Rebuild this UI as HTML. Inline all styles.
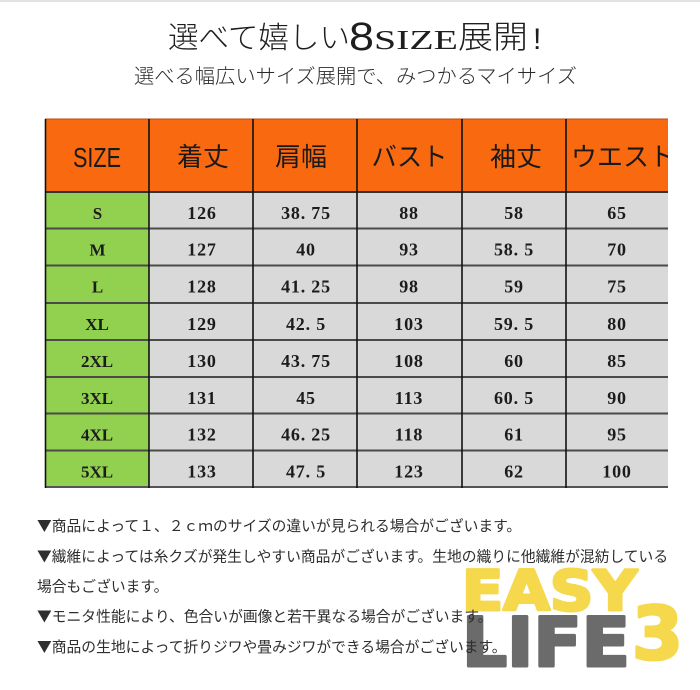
<!DOCTYPE html>
<html>
<head>
<meta charset="utf-8">
<style>
  html,body{margin:0;padding:0;background:#fff;}
  body{width:700px;height:690px;overflow:hidden;}
  svg{display:block;}
</style>
</head>
<body>
<svg width="700" height="690" viewBox="0 0 700 690" xmlns="http://www.w3.org/2000/svg">
  <defs>
    <clipPath id="tbl"><rect x="0" y="0" width="668" height="690"/></clipPath>
  </defs>
  <rect x="0" y="0" width="700" height="690" fill="#ffffff"/>
  <rect x="0" y="0" width="700" height="2" fill="#e2e2e2"/>

  <!-- Title -->
  <g fill="#1e1e1e">
    <text x="168" y="48" font-family="'Noto Sans CJK JP', sans-serif" font-weight="300" font-size="30" textLength="182" lengthAdjust="spacingAndGlyphs">選べて嬉しい</text>
    <text x="349" y="50" font-family="'Liberation Sans', sans-serif" font-size="40" textLength="25" lengthAdjust="spacingAndGlyphs">8</text>
    <text x="374" y="49" font-family="'Liberation Serif', serif" font-size="27" textLength="84" lengthAdjust="spacingAndGlyphs">SIZE</text>
    <text x="458" y="48" font-family="'Noto Sans CJK JP', sans-serif" font-weight="300" font-size="32" textLength="70" lengthAdjust="spacingAndGlyphs">展開</text>
    <text x="533" y="49" font-family="'Liberation Sans', sans-serif" font-size="30">!</text>
  </g>
  <!-- Subtitle -->
  <text x="134" y="83" fill="#2a2a2a" font-family="'Noto Sans CJK JP', sans-serif" font-weight="300" font-size="20" textLength="443" lengthAdjust="spacingAndGlyphs">選べる幅広いサイズ展開で、みつかるマイサイズ</text>

  <!-- Table backgrounds -->
  <g clip-path="url(#tbl)">
    <rect x="45" y="119" width="623" height="73" fill="#f96a10"/>
    <rect x="45" y="192" width="104" height="295" fill="#92d050"/>
    <rect x="149" y="192" width="519" height="295" fill="#d9d9d9"/>

    <!-- horizontal lines -->
    <g stroke="#4a4a4a" stroke-width="2">
      <line x1="45" y1="119" x2="668" y2="119" stroke="#b24d0c" stroke-width="1"/>
      <line x1="45" y1="192" x2="668" y2="192" stroke="#333"/>
      <line x1="45" y1="228.5" x2="668" y2="228.5"/>
      <line x1="45" y1="265.5" x2="668" y2="265.5"/>
      <line x1="45" y1="303" x2="668" y2="303"/>
      <line x1="45" y1="340" x2="668" y2="340"/>
      <line x1="45" y1="377" x2="668" y2="377"/>
      <line x1="45" y1="413.5" x2="668" y2="413.5"/>
      <line x1="45" y1="450.5" x2="668" y2="450.5"/>
      <line x1="45" y1="487" x2="668" y2="487" stroke="#555"/>
    </g>
    <!-- vertical lines -->
    <g stroke="#111" stroke-width="1.6">
      <line x1="45.5" y1="119" x2="45.5" y2="488"/>
      <line x1="149" y1="119" x2="149" y2="488"/>
      <line x1="253" y1="119" x2="253" y2="488"/>
      <line x1="357" y1="119" x2="357" y2="488"/>
      <line x1="462" y1="119" x2="462" y2="488"/>
      <line x1="566" y1="119" x2="566" y2="488"/>
    </g>

    <!-- Header text -->
    <text x="73" y="167" fill="#1a1a1a" font-family="'Liberation Sans', sans-serif" font-size="28" textLength="48" lengthAdjust="spacingAndGlyphs">SIZE</text>
    <g fill="#1a1a1a" font-family="'Noto Sans CJK JP', sans-serif" font-size="26">
      <text x="203" y="166" text-anchor="middle">着丈</text>
      <text x="301" y="166" text-anchor="middle">肩幅</text>
      <text x="409.5" y="166" text-anchor="middle" textLength="76" lengthAdjust="spacingAndGlyphs">バスト</text>
      <text x="516" y="166" text-anchor="middle">袖丈</text>
      <text x="571" y="166">ウエスト</text>
    </g>
  </g>

  <!-- Size column -->
  <g fill="#1c1c1c" font-family="'Liberation Serif', serif" font-weight="bold" font-size="17" text-anchor="middle">
    <text x="97.5" y="219">S</text>
    <text x="97.5" y="255.5">M</text>
    <text x="97.5" y="292.5">L</text>
    <text x="97" y="330">XL</text>
    <text x="97" y="367">2XL</text>
    <text x="97" y="404">3XL</text>
    <text x="97" y="440.5">4XL</text>
    <text x="97" y="477.5">5XL</text>
  </g>

  <!-- Data -->
  <g fill="#1c1c1c" font-family="'Liberation Serif', serif" font-weight="bold" font-size="18" letter-spacing="0.8" text-anchor="middle">
    <text x="202" y="219">126</text><text x="306" y="219">38. 75</text><text x="409" y="219">88</text><text x="514" y="219">58</text><text x="617" y="219">65</text>
    <text x="202" y="255.5">127</text><text x="306" y="255.5">40</text><text x="409" y="255.5">93</text><text x="514" y="255.5">58. 5</text><text x="617" y="255.5">70</text>
    <text x="202" y="292.5">128</text><text x="306" y="292.5">41. 25</text><text x="409" y="292.5">98</text><text x="514" y="292.5">59</text><text x="617" y="292.5">75</text>
    <text x="202" y="330">129</text><text x="306" y="330">42. 5</text><text x="409" y="330">103</text><text x="514" y="330">59. 5</text><text x="617" y="330">80</text>
    <text x="202" y="367">130</text><text x="306" y="367">43. 75</text><text x="409" y="367">108</text><text x="514" y="367">60</text><text x="617" y="367">85</text>
    <text x="202" y="404">131</text><text x="306" y="404">45</text><text x="409" y="404">113</text><text x="514" y="404">60. 5</text><text x="617" y="404">90</text>
    <text x="202" y="440.5">132</text><text x="306" y="440.5">46. 25</text><text x="409" y="440.5">118</text><text x="514" y="440.5">61</text><text x="617" y="440.5">95</text>
    <text x="202" y="477.5">133</text><text x="306" y="477.5">47. 5</text><text x="409" y="477.5">123</text><text x="514" y="477.5">62</text><text x="617" y="477.5">100</text>
  </g>

  <!-- Logo -->
  <g font-family="'DejaVu Sans', sans-serif" font-weight="bold">
    <text x="462" y="610" font-size="55" fill="#f5d84c" stroke="#f5d84c" stroke-width="3" stroke-linejoin="round" textLength="175" lengthAdjust="spacingAndGlyphs">EASY</text>
    <text x="462" y="666" font-size="68" fill="#6b6b6b" stroke="#6b6b6b" stroke-width="3" stroke-linejoin="round" textLength="168" lengthAdjust="spacingAndGlyphs">LIFE</text>
    <text x="632" y="659" font-size="73" fill="#f5d84c" stroke="#f5d84c" stroke-width="3" stroke-linejoin="round" textLength="51" lengthAdjust="spacingAndGlyphs">3</text>
  </g>

  <!-- Notes -->
  <g fill="#2e2e2e" font-family="'Noto Sans CJK JP', sans-serif" font-size="14.77">
    <text x="37" y="531">▼商品によって１、２ｃｍのサイズの違いが見られる場合がございます。</text>
    <text x="37" y="561.5">▼繊維によっては糸クズが発生しやすい商品がございます。生地の織りに他繊維が混紡している</text>
    <text x="37" y="591.5">場合もございます。</text>
    <text x="37" y="621.5">▼モニタ性能により、色合いが画像と若干異なる場合がございます。</text>
    <text x="37" y="652">▼商品の生地によって折りジワや畳みジワができる場合がございます。</text>
  </g>
</svg>
</body>
</html>
